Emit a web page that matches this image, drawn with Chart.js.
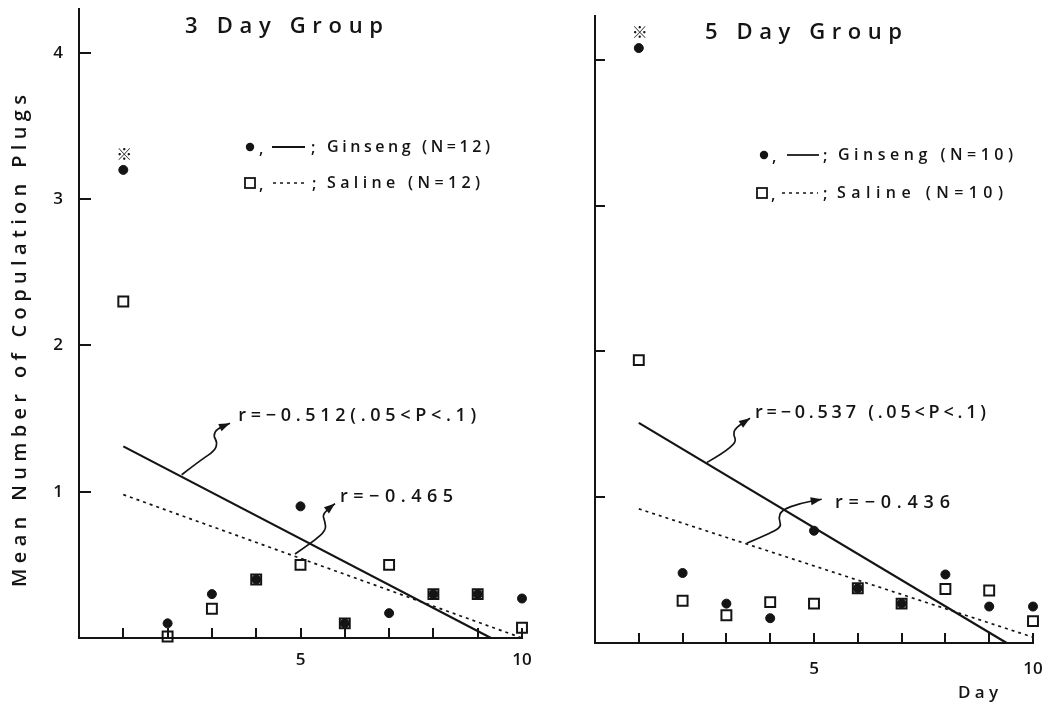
<!DOCTYPE html>
<html>
<head>
<meta charset="utf-8">
<script src="https://cdn.jsdelivr.net/npm/chart.js@4.4.1/dist/chart.umd.min.js"></script>
<style>
  html, body { margin: 0; padding: 0; background: #fff; }
  #wrap { position: relative; width: 1046px; height: 702px; background: #fff; overflow: hidden; }
  #chartLeft { position: absolute; left: 0; top: 0; }
  #chartRight { position: absolute; left: 540px; top: 0; }
</style>
</head>
<body>
<div id="wrap">
  <canvas id="chartLeft" width="540" height="702"></canvas>
  <canvas id="chartRight" width="506" height="702"></canvas>
</div>
<script>
const days = [1, 2, 3, 4, 5, 6, 7, 8, 9, 10];

// 3 day group
const ginseng3 = [3.2, 0.1, 0.3, 0.4, 0.9, 0.1, 0.17, 0.3, 0.3, 0.27];
const saline3 = [2.3, 0.01, 0.2, 0.4, 0.5, 0.1, 0.5, 0.3, 0.3, 0.07];
const ginsengFitDays3 = [1, 9.3];
const ginsengFit3 = [1.31, 0];
const salineFitDays3 = [1, 10];
const salineFit3 = [0.98, 0];

// 5 day group
const ginseng5 = [4.08, 0.48, 0.27, 0.17, 0.77, 0.375, 0.27, 0.47, 0.25, 0.25];
const saline5 = [1.94, 0.29, 0.19, 0.28, 0.27, 0.375, 0.27, 0.37, 0.36, 0.15];
const ginsengFitDays5 = [1, 9.4];
const ginsengFit5 = [1.51, 0];
const salineFitDays5 = [1, 10];
const salineFit5 = [0.92, 0.04];

const xTickLabels = [5, 10];
const yTickLabels = [1, 2, 3, 4];

// correlation notes: text anchor and wavy arrow path, in data units
const notes3 = [
    { text: 'r=\u22120.512(.05<P<.1)', at: [3.596, 1.52], width: 238,
      arrow: [[2.318, 1.116], [2.731, 1.213], [3.070, 1.281], [3.122, 1.338], [3.032, 1.383], [3.108, 1.429], [3.409, 1.468]] },
    { text: 'r=\u22120.465', at: [5.892, 0.968], width: 113,
      arrow: [[4.876, 0.574], [5.289, 0.658], [5.576, 0.737], [5.553, 0.794], [5.501, 0.839], [5.591, 0.873], [5.779, 0.919]] }
];
const notes5 = [
    { text: 'r=\u22120.537 (.05<P<.1)', at: [3.653, 1.575], width: 231,
      arrow: [[2.550, 1.237], [2.929, 1.301], [3.235, 1.381], [3.158, 1.427], [3.196, 1.473], [3.539, 1.541]] },
    { text: 'r=\u22120.436', at: [5.479, 0.962], width: 115,
      arrow: [[3.463, 0.684], [3.995, 0.752], [4.263, 0.798], [4.185, 0.855], [4.263, 0.912], [4.680, 0.958], [5.176, 0.986]] }
];

const INK = '#141414';
const FONT = '"Open Sans", "DejaVu Sans", sans-serif';
const WEIGHT = 600;

// draw text stretched to a given width by spreading the letters
function spaced(ctx, text, x, y, width, size) {
    ctx.font = `${WEIGHT} ${size}px ${FONT}`;
    ctx.textAlign = 'left';
    const chars = [...text];
    const widths = chars.map((c) => ctx.measureText(c).width);
    const natural = widths.reduce((a, b) => a + b, 0);
    const gap = chars.length > 1 ? (width - natural) / (chars.length - 1) : 0;
    let cx = x;
    chars.forEach((c, i) => {
        ctx.fillText(c, cx, y);
        cx += widths[i] + gap;
    });
}

function wavyArrow(ctx, pts) {
    ctx.beginPath();
    ctx.moveTo(pts[0][0], pts[0][1]);
    for (let i = 1; i < pts.length - 1; i++) {
        const mx = (pts[i][0] + pts[i + 1][0]) / 2;
        const my = (pts[i][1] + pts[i + 1][1]) / 2;
        ctx.quadraticCurveTo(pts[i][0], pts[i][1], mx, my);
    }
    const end = pts[pts.length - 1];
    const prev = pts[pts.length - 2];
    ctx.lineTo(end[0], end[1]);
    ctx.stroke();
    const ang = Math.atan2(end[1] - prev[1], end[0] - prev[0]);
    ctx.beginPath();
    ctx.moveTo(end[0], end[1]);
    ctx.lineTo(end[0] - 11 * Math.cos(ang) + 4 * Math.sin(ang), end[1] - 11 * Math.sin(ang) - 4 * Math.cos(ang));
    ctx.lineTo(end[0] - 11 * Math.cos(ang) - 4 * Math.sin(ang), end[1] - 11 * Math.sin(ang) + 4 * Math.cos(ang));
    ctx.closePath();
    ctx.fill();
}

const decorPlugin = {
    id: 'decor',
    afterDraw(chart, args, opts) {
        const ctx = chart.ctx;
        const xs = chart.scales.x;
        const ys = chart.scales.y;
        const x0 = xs.getPixelForValue(0);
        ctx.save();
        ctx.fillStyle = INK;
        ctx.strokeStyle = INK;
        ctx.textBaseline = 'middle';

        // panel title
        spaced(ctx, opts.title.text, opts.title.x, opts.title.y, opts.title.width, 22);

        // y axis title
        if (opts.yTitle) {
            ctx.save();
            ctx.translate(opts.yTitle.x, opts.yTitle.y);
            ctx.rotate(-Math.PI / 2);
            spaced(ctx, opts.yTitle.text, -opts.yTitle.width / 2, 0, opts.yTitle.width, 20);
            ctx.restore();
        }
        if (opts.xTitle) {
            spaced(ctx, opts.xTitle.text, opts.xTitle.x, opts.xTitle.y, opts.xTitle.width, 17);
        }

        // legend rows: marker, comma, line sample, semicolon, label
        opts.legend.forEach((row) => {
            const ds = chart.data.datasets[row.dataset];
            const fit = chart.data.datasets[row.fit];
            if (ds.pointStyle === 'circle') {
                ctx.beginPath();
                ctx.arc(row.markerX, row.y, 4.2, 0, Math.PI * 2);
                ctx.fill();
            } else {
                ctx.lineWidth = 1.8;
                ctx.strokeRect(row.markerX - 5, row.y - 5, 10, 10);
            }
            spaced(ctx, ',', row.commaX, row.y + 2, 4, 16);
            ctx.save();
            ctx.lineWidth = fit.borderWidth * 0.8;
            ctx.setLineDash(fit.borderDash || []);
            ctx.beginPath();
            ctx.moveTo(row.line[0], row.y);
            ctx.lineTo(row.line[1], row.y);
            ctx.stroke();
            ctx.restore();
            spaced(ctx, ';', row.semiX, row.y + 1, 4, 16);
            spaced(ctx, row.label, row.labelX, row.y, row.labelWidth, 16);
        });

        // significance mark over the first ginseng point
        const star = chart.getDatasetMeta(0).data[0];
        ctx.font = '16px "Noto Sans CJK JP", sans-serif';
        ctx.textAlign = 'center';
        ctx.fillText('\u203B', star.x + 1, star.y - 16);

        // correlation notes with wavy arrows
        ctx.lineWidth = 1.7;
        opts.notes.forEach((n) => {
            spaced(ctx, n.text, xs.getPixelForValue(n.at[0]), ys.getPixelForValue(n.at[1]), n.width, 18);
            const pts = n.arrow.map(([d, v]) => [xs.getPixelForValue(d), ys.getPixelForValue(v)]);
            wavyArrow(ctx, pts);
        });

        // y tick marks point into the plot
        ctx.lineWidth = 2;
        ctx.beginPath();
        yTickLabels.forEach((v) => {
            const py = Math.round(ys.getPixelForValue(v));
            ctx.moveTo(x0, py);
            ctx.lineTo(x0 + opts.yTickLen, py);
        });
        ctx.stroke();
        ctx.restore();
    }
};

function pairs(xsArr, ysArr) {
    return xsArr.map((x, i) => ({ x: x, y: ysArr[i] }));
}

function makePanel(id, g, s, gfx, gfy, sfx, sfy, layout, decor) {
    return new Chart(id, {
        type: 'scatter',
        data: {
            datasets: [
                { label: 'Ginseng', data: pairs(days, g), pointStyle: 'circle', pointRadius: 4.5,
                  backgroundColor: INK, borderColor: INK, borderWidth: 1, clip: false, order: 0 },
                { label: 'Saline', data: pairs(days, s), pointStyle: 'rect', pointRadius: 7,
                  backgroundColor: 'rgba(0,0,0,0)', borderColor: INK, borderWidth: 2, clip: false, order: 1 },
                { label: 'Ginseng fit', data: pairs(gfx, gfy), showLine: true, pointRadius: 0,
                  borderColor: INK, borderWidth: 2.2, fill: false, clip: false, order: 2 },
                { label: 'Saline fit', data: pairs(sfx, sfy), showLine: true, pointRadius: 0,
                  borderColor: INK, borderWidth: 1.7, borderDash: [3, 4], fill: false, clip: false, order: 3 }
            ]
        },
        options: {
            responsive: false,
            animation: false,
            layout: { padding: { top: layout.top, right: layout.right, left: 0, bottom: 0 } },
            scales: {
                x: {
                    type: 'linear', min: 0, max: 10,
                    afterFit: (scale) => {
                        scale.height = layout.xHeight;
                        scale.paddingLeft = 0;
                        scale.paddingRight = 0;
                    },
                    // negative tick length turns the day ticks up into the plot
                    grid: { display: true, drawOnChartArea: false, drawTicks: true, tickLength: -10,
                            color: INK, tickColor: INK, lineWidth: 2, tickWidth: 2 },
                    border: { display: true, color: INK, width: 2 },
                    ticks: {
                        stepSize: 1, autoSkip: false, maxRotation: 0, padding: layout.xPad + 10, color: INK,
                        font: { family: FONT, size: 17, weight: WEIGHT },
                        callback: (v) => xTickLabels.includes(v) ? String(v) : ''
                    }
                },
                y: {
                    type: 'linear', min: 0, max: 4.3,
                    afterFit: (scale) => {
                        scale.width = layout.yWidth;
                        scale.paddingTop = 0;
                        scale.paddingBottom = 0;
                    },
                    grid: { display: false, drawTicks: false },
                    border: { display: true, color: INK, width: 2 },
                    ticks: {
                        display: layout.yLabels, stepSize: 1, autoSkip: false, padding: 16, color: INK,
                        font: { family: FONT, size: 17, weight: WEIGHT },
                        callback: (v) => yTickLabels.includes(v) ? String(v) : ''
                    }
                }
            },
            plugins: {
                legend: { display: false },
                tooltip: { enabled: false },
                decor: decor
            }
        },
        plugins: [decorPlugin]
    });
}

makePanel('chartLeft', ginseng3, saline3, ginsengFitDays3, ginsengFit3, salineFitDays3, salineFit3,
    { top: 6, right: 18, xHeight: 64, yWidth: 79, xPad: 12, yLabels: true },
    {
        yTickLen: 12,
        title: { text: '3 Day Group', x: 185, y: 27, width: 198 },
        yTitle: { text: 'Mean Number of Copulation Plugs', x: 20, y: 341, width: 492 },
        legend: [
            { dataset: 0, fit: 2, y: 147, markerX: 250, commaX: 259, line: [272, 305], semiX: 311, labelX: 327, labelWidth: 163, label: 'Ginseng (N=12)' },
            { dataset: 1, fit: 3, y: 183, markerX: 250, commaX: 259, line: [273, 307], semiX: 312, labelX: 327, labelWidth: 153, label: 'Saline (N=12)' }
        ],
        notes: notes3
    });

makePanel('chartRight', ginseng5, saline5, ginsengFitDays5, ginsengFit5, salineFitDays5, salineFit5,
    { top: 16, right: 13, xHeight: 59, yWidth: 55, xPad: 16, yLabels: false },
    {
        yTickLen: 10,
        title: { text: '5 Day Group', x: 165, y: 33, width: 197 },
        xTitle: { text: 'Day', x: 418, y: 693, width: 40 },
        legend: [
            { dataset: 0, fit: 2, y: 155, markerX: 224, commaX: 232, line: [247, 279], semiX: 283, labelX: 298, labelWidth: 175, label: 'Ginseng (N=10)' },
            { dataset: 1, fit: 3, y: 193, markerX: 222, commaX: 231, line: [242, 278], semiX: 283, labelX: 297, labelWidth: 166, label: 'Saline (N=10)' }
        ],
        notes: notes5
    });
</script>
</body>
</html>
